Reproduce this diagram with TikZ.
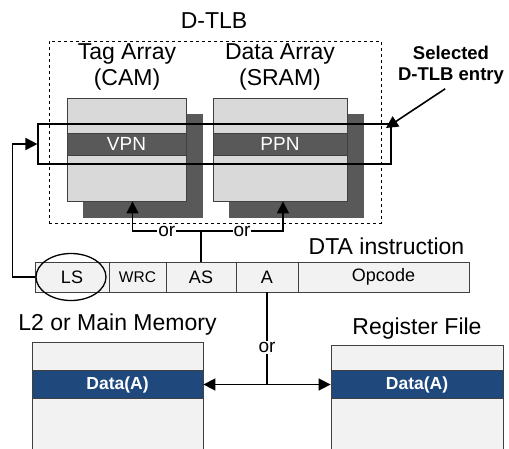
\documentclass[tikz,border=0pt]{standalone}
\usepackage{fontspec}
\setmainfont{Liberation Sans}
\usetikzlibrary{arrows.meta, positioning, calc, shapes.geometric}
\definecolor{lightgr}{HTML}{D9D9D9}
\definecolor{darkgr}{HTML}{595959}
\definecolor{fieldgr}{HTML}{F2F2F2}
\definecolor{edgegr}{HTML}{404040}
\definecolor{datablue}{HTML}{1F497D}

\begin{document}
\begin{tikzpicture}[x=1pt, y=-1pt, >={Triangle[length=12pt,width=12pt]}, line width=1.6pt,
    biglbl/.style={font=\fontsize{23}{26}\selectfont, align=center, inner sep=0pt},
    boldlbl/.style={font=\bfseries\fontsize{18.5}{21}\selectfont, align=center, inner sep=0pt},
    ortext/.style={fill=white, inner sep=1pt, font=\fontsize{19}{22}\selectfont},
    shadowbox/.style={fill=darkgr, minimum height=104pt, inner sep=0pt},
    arrbox/.style={draw=edgegr, line width=0.8pt, fill=lightgr, minimum height=103pt, inner sep=0pt},
    barbox/.style={draw=edgegr, line width=0.8pt, fill=darkgr, text=white, minimum height=22pt, inner sep=0pt, font=\fontsize{19}{22}\selectfont},
    field/.style={draw=edgegr, line width=0.8pt, fill=fieldgr, minimum height=30pt, inner sep=0pt, outer sep=0pt, font=\fontsize{18}{21}\selectfont},
    membox/.style={draw=edgegr, line width=0.8pt, fill=fieldgr, inner sep=0pt},
    databar/.style={draw=edgegr, line width=0.8pt, fill=datablue, text=white, minimum height=28pt, inner sep=0pt, font=\bfseries\fontsize{17.5}{20}\selectfont}]
  \useasboundingbox (0,0) rectangle (509,448);
  \clip (0,0) rectangle (509,448);

  \node[shadowbox, minimum width=120pt] (tagback) at (143,166) {};
  \node[arrbox, minimum width=119pt] (tag) at (126.5,149.5) {};
  \node[barbox, minimum width=119pt] (vpn) at (126.5,144) {VPN};
  \node[shadowbox, minimum width=135pt] (databack) at (296.5,166) {};
  \node[arrbox, minimum width=134pt] (data) at (280,149.5) {};
  \node[barbox, minimum width=134pt] (ppn) at (280,144) {PPN};
  \node[draw, dashed, line width=0.8pt, minimum width=332pt, minimum height=182pt, inner sep=0pt] (dtlb) at (215,132) {};
  \node[draw, line width=1.1pt, minimum width=353pt, minimum height=40pt, inner sep=0pt] (sel) at (214.5,144) {};

  \node[biglbl] (dtlbtxt) at (214,21) {D-TLB};
  \node[biglbl] (tagtxt) at (127,67) {Tag Array\\(CAM)};
  \node[biglbl] (datatxt) at (280,67) {Data Array\\(SRAM)};
  \node[boldlbl] (seltxt) at (451,65) {Selected\\D-TLB entry};

  \node[field, minimum width=74pt] (ls) at (72,277) {LS};
  \node[field, minimum width=57pt, right=0pt of ls, font=\fontsize{15.5}{18}\selectfont] (wrc) {WRC};
  \node[field, minimum width=70pt, right=0pt of wrc] (as) {AS};
  \node[field, minimum width=62pt, right=0pt of as] (a) {A};
  \node[field, minimum width=171pt, right=0pt of a] (opcode) {Opcode};
  \node[draw, ellipse, line width=1.3pt, minimum width=70pt, minimum height=47pt, inner sep=0pt] (lsring) at (71,277) {};
  \node[biglbl, above=6pt of opcode, xshift=3pt] (dtatxt) {DTA instruction};

  \node[membox, minimum width=171pt, minimum height=118pt] (l2) at (117.5,401) {};
  \node[databar, minimum width=171pt] (l2data) at (117.5,384.5) {Data(A)};
  \node[biglbl, above=6pt of l2] (l2txt) {L2 or Main Memory};
  \node[membox, minimum width=172pt, minimum height=115pt] (rf) at (417,402.5) {};
  \node[databar, minimum width=172pt] (rfdata) at (417,384.5) {Data(A)};
  \node[biglbl, above=5pt of rf] (rftxt) {Register File};

  \coordinate (seltip) at (386,128);
  \coordinate (split) at ($(as.north)+(0,-31)$);
  \coordinate (fork) at (a.south |- l2data);

  \draw[->, shorten <=7pt] (seltxt.south) -- (seltip);
  \draw[->] (lsring.west) -- ++(-23,0) |- (sel.west);
  \draw (as.north) -- (split);
  \draw[->] (split) -| node[ortext, pos=0.25] {or} ($(tag.south)+(6,0)$);
  \draw[->] (split) -| node[ortext, pos=0.25] {or} ($(data.south)+(3,0)$);
  \draw (a.south) -- node[ortext, pos=0.6] {or} (fork);
  \draw[<->] (l2data) -- (rfdata);
\end{tikzpicture}
\end{document}
